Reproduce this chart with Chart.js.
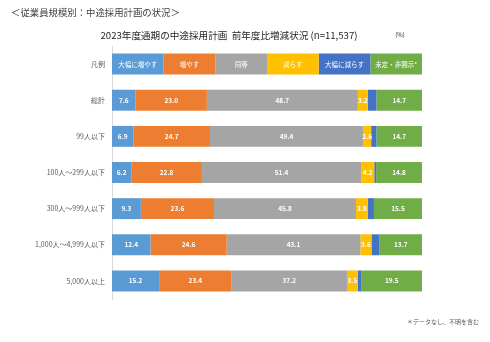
<!DOCTYPE html>
<html>
<head>
<meta charset="utf-8">
<script src="https://cdn.jsdelivr.net/npm/chart.js@4"></script>
<style>
  html, body { margin: 0; padding: 0; background: #fff; }
  canvas { display: block; }
</style>
</head>
<body>
<canvas id="planChart" width="490" height="342"></canvas>
<script>
// 規模別の行(先頭は凡例用の行)
const categories = ['凡例', '総計', '99人以下', '100人～299人以下', '300人～999人以下', '1,000人～4,999人以下', '5,000人以上'];
const seriesNames = ['大幅に増やす', '増やす', '同等', '減らす', '大幅に減らす', '未定・非開示*'];
const colors = ['#5B9BD5', '#ED7D31', '#A5A5A5', '#FFC000', '#4472C4', '#70AD47'];

// 各系列の値(%) 先頭は凡例の行なので均等幅
const bigIncrease = [16.67, 7.6, 6.9, 6.2, 9.3, 12.4, 15.2];
const increase    = [16.67, 23.0, 24.7, 22.8, 23.6, 24.6, 23.4];
const same        = [16.67, 48.7, 49.4, 51.4, 45.8, 43.1, 37.2];
const decrease    = [16.67, 3.2, 2.6, 4.2, 3.8, 3.6, 3.5];
const bigDecrease = [16.67, 2.8, 1.7, 0.6, 2.0, 2.6, 1.2];
const undecided   = [16.65, 14.7, 14.7, 14.8, 15.5, 13.7, 19.5];

const seriesValues = [bigIncrease, increase, same, decrease, bigDecrease, undecided];

const FONT = '"Noto Sans CJK JP", "Noto Sans", sans-serif';

// バーの中に数値(凡例の行は系列名)を書く
const barLabels = {
    id: 'barLabels',
    afterDatasetsDraw(chart) {
        const ctx = chart.ctx;
        ctx.save();
        ctx.textAlign = 'center';
        ctx.textBaseline = 'middle';
        ctx.fillStyle = '#fff';
        chart.data.datasets.forEach((ds, di) => {
            chart.getDatasetMeta(di).data.forEach((bar, i) => {
                const x = (bar.x + bar.base) / 2;
                if (i === 0) {
                    ctx.font = '6.5px ' + FONT;
                    ctx.fillText(ds.label, x, bar.y);
                } else if (di !== 4) {
                    ctx.font = 'bold 6.5px ' + FONT;
                    ctx.fillText(ds.data[i].toFixed(1), x, bar.y);
                }
            });
        });
        ctx.restore();
    }
};

// タイトルと注記
const headings = {
    id: 'headings',
    afterDraw(chart) {
        const ctx = chart.ctx;
        ctx.save();
        ctx.textBaseline = 'middle';
        ctx.fillStyle = '#404040';
        ctx.font = '9.4px ' + FONT;
        ctx.textAlign = 'left';
        ctx.fillText('＜従業員規模別：中途採用計画の状況＞', 11, 12);

        ctx.fillStyle = '#262626';
        ctx.font = '9.6px ' + FONT;
        ctx.textAlign = 'center';
        ctx.fillText('2023年度通期の中途採用計画  前年度比増減状況 (n=11,537)', 229, 35);
        ctx.font = '6px ' + FONT;
        ctx.fillText('(%)', 400, 35);

        ctx.fillStyle = '#595959';
        ctx.font = '6px ' + FONT;
        ctx.textAlign = 'right';
        ctx.fillText('＊データなし、不明を含む', 479, 322);
        ctx.restore();
    }
};

new Chart(document.getElementById('planChart'), {
    type: 'bar',
    data: {
        labels: categories,
        datasets: seriesNames.map((name, i) => ({
            label: name,
            data: seriesValues[i],
            backgroundColor: colors[i],
            borderWidth: 0,
            barPercentage: 0.58,
            categoryPercentage: 1
        }))
    },
    options: {
        indexAxis: 'y',
        responsive: false,
        animation: false,
        layout: { padding: { top: 46, right: 68, bottom: 43, left: 0 } },
        plugins: {
            legend: { display: false },
            tooltip: { enabled: false }
        },
        scales: {
            x: {
                stacked: true,
                min: 0,
                max: 100,
                display: false
            },
            y: {
                stacked: true,
                grid: { display: false, drawTicks: false },
                border: { color: '#d9d9d9' },
                ticks: {
                    color: '#595959',
                    padding: 7,
                    font: { family: FONT, size: 7 }
                },
                afterFit(scale) { scale.width = 112; }
            }
        }
    },
    plugins: [barLabels, headings]
});
</script>
</body>
</html>
